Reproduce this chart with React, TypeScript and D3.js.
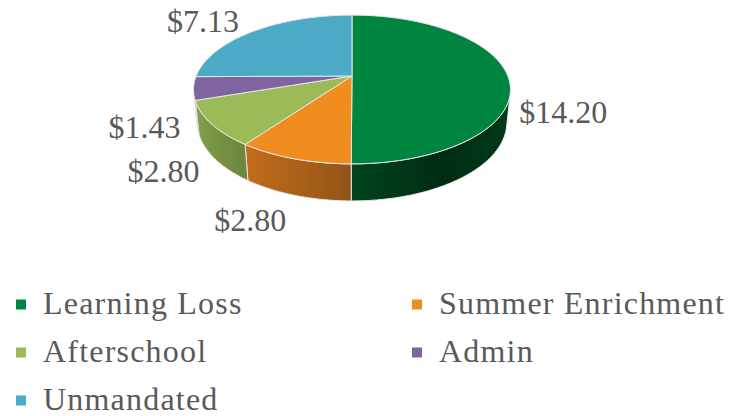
import React from "react";
import * as d3 from "d3";

const categories = ["Learning Loss", "Summer Enrichment", "Afterschool", "Admin", "Unmandated"];
const values = [14.2, 2.8, 2.8, 1.43, 7.13];
const topColors = ["#008540", "#f18c1f", "#9bbb59", "#8064a2", "#4baac6"];
const wallColors = [
  ["#00441f", "#002c13", "#00391a"],
  ["#c46c1a", "#a85f18", "#8f5417"],
  ["#80a04c", "#748f41", "#6a883a"],
  ["#5e4a7a", "#55436f", "#4e3e66"],
  ["#3a8aa0", "#347d91", "#2f7183"],
];

const W = 746;
const H = 416;
const CX = 352;
const CY = 76;
const F = 762;
const DIST = 4.89;
const SINP = 0.4616;
const COSP = Math.sqrt(1 - SINP * SINP);
const THICK = 0.24;
const FONT = "'Liberation Serif', 'Times New Roman', serif";
const TEXT = "#595959";
const FS = 32;

function proj(theta: number, r: number, Y: number): [number, number] {
  const X = r * Math.sin(theta);
  const Z = -r * Math.cos(theta);
  const yv = Y * COSP - Z * SINP;
  const dep = Y * SINP + Z * COSP;
  const s = F / (DIST - dep);
  return [CX + X * s, CY - yv * s];
}

function arcPts(a0: number, a1: number, Y: number): [number, number][] {
  const n = Math.max(2, Math.ceil(Math.abs(a1 - a0) / 0.02));
  const pts: [number, number][] = [];
  for (let i = 0; i <= n; i++) {
    const a = a0 + ((a1 - a0) * i) / n;
    pts.push(proj(a, 1, Y));
  }
  return pts;
}

export default function App() {
  const data = categories.map((c, i) => ({ name: c, value: values[i], i }));
  const arcs = d3
    .pie<any>()
    .sort(null)
    .value((d: any) => d.value)(data);
  const line = d3.line();

  const cMin = -1 / (DIST * COSP);
  const thMin = Math.acos(cMin);
  const thMax = 2 * Math.PI - thMin;

  const walls = arcs
    .map((a) => {
      const s = Math.max(a.startAngle, thMin);
      const e = Math.min(a.endAngle, thMax);
      if (e <= s) return null;
      const top = arcPts(s, e, 0);
      const bot = arcPts(e, s, -THICK);
      const xs = top.concat(bot).map((p) => p[0]);
      return {
        i: a.data.i,
        d: (line(top.concat(bot)) as string) + "Z",
        x0: d3.min(xs) as number,
        x1: d3.max(xs) as number,
      };
    })
    .filter(Boolean) as any[];

  const tops = arcs.map((a) => {
    const pts = [proj(0, 0, 0), ...arcPts(a.startAngle, a.endAngle, 0)];
    return { i: a.data.i, d: (line(pts) as string) + "Z" };
  });

  const fmt = d3.format(".2f");
  const labels = arcs.map((a) => {
    const mid = (a.startAngle + a.endAngle) / 2;
    const Z = -Math.cos(mid);
    const anchor = proj(mid, 1, Z >= -0.1 ? -THICK : 0);
    const dx = anchor[0] - CX;
    const dy = anchor[1] - (CY + 14);
    const len = Math.hypot(dx, dy);
    const ux = dx / len;
    const uy = dy / len;
    const g = 15;
    const x = anchor[0] + g * ux;
    const vf = uy >= 0 ? 0.425 : 0.1;
    const cy = anchor[1] + g * uy + uy * FS * vf;
    return {
      text: "$" + fmt(a.data.value),
      x: x + (ux >= 0 ? 0 : -2),
      y: cy + FS * 0.33,
      anchor: ux >= 0 ? "start" : "end",
    };
  });

  const legendCols = [16, 412];
  const legendRow0 = 304.5;
  const legendStep = 48;

  return (
    <svg
      width={W}
      height={H}
      style={{ position: "absolute", left: 0, top: 0, background: "#fff" }}
    >
      <defs>
        {walls.map((w) => (
          <linearGradient
            key={"g" + w.i}
            id={"wall" + w.i}
            gradientUnits="userSpaceOnUse"
            x1={w.x0}
            x2={w.x1}
            y1={0}
            y2={0}
          >
            <stop offset="0%" stopColor={wallColors[w.i][0]} />
            <stop offset="55%" stopColor={wallColors[w.i][1]} />
            <stop offset="100%" stopColor={wallColors[w.i][2]} />
          </linearGradient>
        ))}
      </defs>
      {walls.map((w) => (
        <path
          key={"w" + w.i}
          d={w.d}
          fill={`url(#wall${w.i})`}
          stroke="#e6e6e6"
          strokeWidth={1}
          strokeLinejoin="round"
        />
      ))}
      {tops.map((t) => (
        <path
          key={"t" + t.i}
          d={t.d}
          fill={topColors[t.i]}
          stroke="#e6e6e6"
          strokeWidth={1}
          strokeLinejoin="round"
        />
      ))}
      {labels.map((l, i) => (
        <text
          key={"l" + i}
          x={l.x}
          y={l.y}
          textAnchor={l.anchor}
          fontFamily={FONT}
          fontSize={FS}
          fill={TEXT}
        >
          {l.text}
        </text>
      ))}
      {categories.map((c, i) => {
        const col = i % 2;
        const row = Math.floor(i / 2);
        const x = legendCols[col];
        const y = legendRow0 + row * legendStep;
        return (
          <g key={"lg" + i}>
            <rect x={x} y={y - 5} width={10} height={10} fill={topColors[i]} />
            <text
              x={x + 27}
              y={y + 9}
              fontFamily={FONT}
              fontSize={FS}
              fill={TEXT}
              letterSpacing={1.2}
            >
              {c}
            </text>
          </g>
        );
      })}
    </svg>
  );
}
